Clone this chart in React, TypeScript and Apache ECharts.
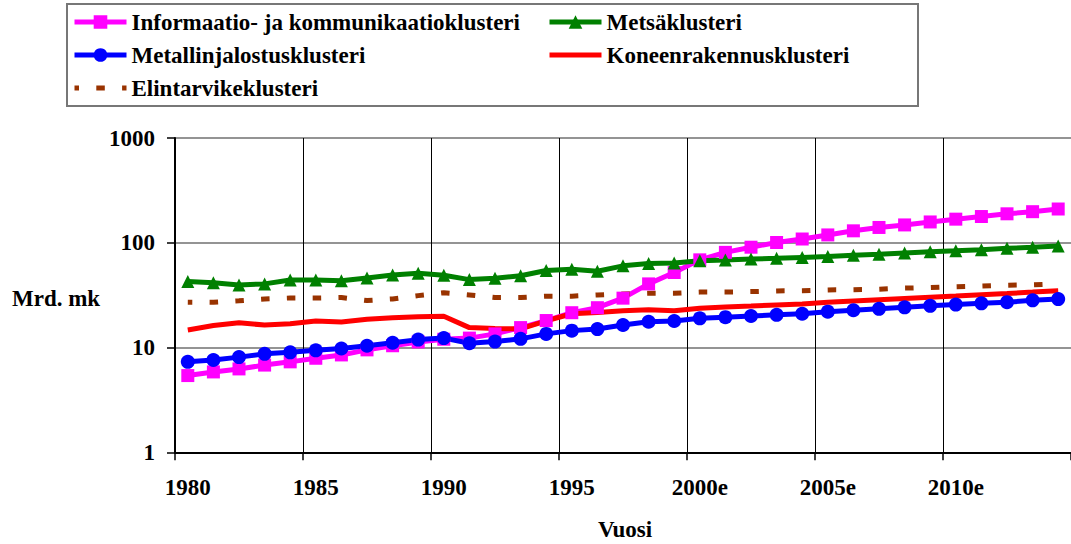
import React, { useEffect, useRef } from "react";
import * as echarts from "echarts";

const years = [
  "1980", "1981", "1982", "1983", "1984", "1985", "1986", "1987", "1988", "1989",
  "1990", "1991", "1992", "1993", "1994", "1995", "1996", "1997", "1998", "1999",
  "2000e", "2001e", "2002e", "2003e", "2004e", "2005e", "2006e", "2007e", "2008e", "2009e",
  "2010e", "2011e", "2012e", "2013e", "2014e",
];

const infoValues = [
  5.4, 5.85, 6.25, 6.8, 7.3, 7.9, 8.5, 9.5, 10.4, 11.3,
  12.0, 12.3, 13.5, 15.5, 18.1, 21.5, 24.0, 29.6, 40.5, 52,
  68.7, 81, 90.7, 100.6, 108.6, 118.8, 130, 140, 148, 158,
  168, 178, 189, 198, 210,
];

const metsaValues = [
  42.6, 41.5, 39.5, 40.5, 44.2, 44, 43.5, 46.2, 49.3, 51.3,
  49, 44.5, 45.9, 48.4, 54.4, 56, 53.5, 60.2, 63.5, 64,
  67.3, 68.5, 70, 71, 72.5, 74, 76, 77.5, 79.7, 82,
  83.9, 86, 88.5, 90.5, 93,
];

const metalliValues = [
  7.3, 7.6, 8.1, 8.7, 9.0, 9.4, 9.8, 10.4, 11.1, 11.9,
  12.3, 11.0, 11.4, 12.1, 13.5, 14.5, 15.0, 16.4, 17.6, 17.9,
  19.0, 19.5, 20.0, 20.5, 21.0, 22.0, 22.7, 23.4, 24.2, 25.0,
  25.7, 26.4, 27.1, 28.2, 29.0,
];

const koneValues = [
  14.7, 16.2, 17.2, 16.4, 16.9, 17.9, 17.5, 18.6, 19.2, 19.7,
  19.9, 15.5, 15.2, 15.1, 18.0, 21.0, 21.6, 22.5, 22.9, 22.5,
  23.7, 24.4, 24.9, 25.5, 26.1, 27.0, 27.8, 28.6, 29.4, 30.2,
  31.0, 31.9, 32.8, 33.8, 34.9,
];

const elintarvikeValues = [
  27.1, 27.0, 27.9, 29.1, 29.7, 29.7, 30.0, 28.1, 29.1, 31.3,
  33.3, 31.8, 30.0, 30.0, 30.9, 30.9, 31.8, 32.5, 33.0, 33.0,
  33.8, 33.8, 34.2, 34.7, 34.9, 35.5, 35.6, 36.0, 36.9, 37.3,
  38.1, 38.6, 39.3, 39.7, 40.5,
];

const seriesNames = [
  "Informaatio- ja kommunikaatioklusteri",
  "Metsäklusteri",
  "Metallinjalostusklusteri",
  "Koneenrakennusklusteri",
  "Elintarvikeklusteri",
];

const yAxisName = "Mrd. mk";
const xAxisName = "Vuosi";

const FONT = "Liberation Serif";

export default function App() {
  const ref = useRef<HTMLDivElement>(null);

  useEffect(() => {
    if (!ref.current) return;
    const chart = echarts.init(ref.current, undefined, { renderer: "svg" });

    const textStyle = {
      fontFamily: FONT,
      fontWeight: "bold" as const,
      fontSize: 23,
      color: "#000",
    };

    const legendCommon = {
      orient: "vertical" as const,
      top: 9,
      padding: 0,
      itemWidth: 52,
      itemHeight: 17,
      itemGap: 7,
      selectedMode: false,
      lineStyle: { width: 5 },
      textStyle: { ...textStyle, lineHeight: 26 },
    };

    chart.setOption({
      animation: false,
      backgroundColor: "#fff",
      textStyle: { fontFamily: FONT },
      grid: { left: 175, top: 138, right: -8.4, bottom: 91.7, containLabel: false },
      legend: [
        {
          ...legendCommon,
          left: 72,
          data: [
            seriesNames[0],
            seriesNames[2],
            { name: seriesNames[4], itemStyle: { opacity: 0 } },
          ],
        },
        {
          ...legendCommon,
          left: 547,
          data: [seriesNames[1], { name: seriesNames[3], itemStyle: { opacity: 0 } }],
        },
      ],
      graphic: [
        {
          type: "rect",
          shape: { x: 67, y: 4, width: 851, height: 102 },
          style: { fill: "none", stroke: "#777", lineWidth: 2 },
          silent: true,
        },
        {
          type: "text",
          x: 12,
          y: 298,
          style: {
            text: yAxisName,
            font: "bold 23px Liberation Serif",
            fontFamily: FONT,
            fontWeight: "bold",
            fontSize: 23,
            fill: "#000",
            verticalAlign: "middle",
          },
          silent: true,
        },
        {
          type: "text",
          x: 625,
          y: 529,
          style: {
            text: xAxisName,
            font: "bold 23px Liberation Serif",
            fontFamily: FONT,
            fontWeight: "bold",
            fontSize: 23,
            fill: "#000",
            align: "center",
            verticalAlign: "middle",
          },
          silent: true,
        },
      ],
      xAxis: {
        type: "category",
        data: years,
        boundaryGap: true,
        axisLine: { show: true, lineStyle: { color: "#000", width: 2 } },
        axisTick: { show: true, interval: 4, length: 8, lineStyle: { color: "#000", width: 1.5 } },
        axisLabel: { interval: 4, margin: 24, ...textStyle },
        splitLine: { show: true, interval: 4, lineStyle: { color: "#000", width: 1 } },
      },
      yAxis: {
        type: "log",
        logBase: 10,
        min: 1,
        max: 1000,
        axisLine: { show: true, lineStyle: { color: "#000", width: 2 } },
        axisTick: { show: true, length: 8, lineStyle: { color: "#000", width: 1.5 } },
        axisLabel: { margin: 20, ...textStyle, formatter: (v: number) => String(Math.round(v)) },
        splitLine: { show: true, lineStyle: { color: "#707070", width: 1.5 } },
        minorTick: { show: false },
      },
      series: [
        {
          name: seriesNames[0],
          type: "line",
          data: infoValues,
          symbol: "rect",
          symbolSize: 13,
          color: "#FF00FF",
          lineStyle: { width: 5, color: "#FF00FF" },
          itemStyle: { color: "#FF00FF" },
          silent: true,
        },
        {
          name: seriesNames[1],
          type: "line",
          data: metsaValues,
          symbol: "triangle",
          symbolSize: 13,
          color: "#008000",
          lineStyle: { width: 5, color: "#008000" },
          itemStyle: { color: "#008000" },
          silent: true,
        },
        {
          name: seriesNames[2],
          type: "line",
          data: metalliValues,
          symbol: "circle",
          symbolSize: 14,
          color: "#0000FF",
          lineStyle: { width: 5, color: "#0000FF" },
          itemStyle: { color: "#0000FF" },
          silent: true,
        },
        {
          name: seriesNames[3],
          type: "line",
          data: koneValues,
          symbol: "none",
          color: "#FF0000",
          lineStyle: { width: 5, color: "#FF0000" },
          itemStyle: { color: "#FF0000" },
          silent: true,
        },
        {
          name: seriesNames[4],
          type: "line",
          data: elintarvikeValues,
          symbol: "none",
          color: "#993300",
          lineStyle: { width: 5, color: "#993300", type: [8.5, 17.3], cap: "butt", dashOffset: 4 },
          itemStyle: { color: "#993300" },
          silent: true,
        },
      ],
    });

    return () => {
      chart.dispose();
    };
  }, []);

  return (
    <div
      ref={ref}
      style={{ position: "absolute", left: 0, top: 0, width: 1071, height: 544, background: "#fff" }}
    />
  );
}
